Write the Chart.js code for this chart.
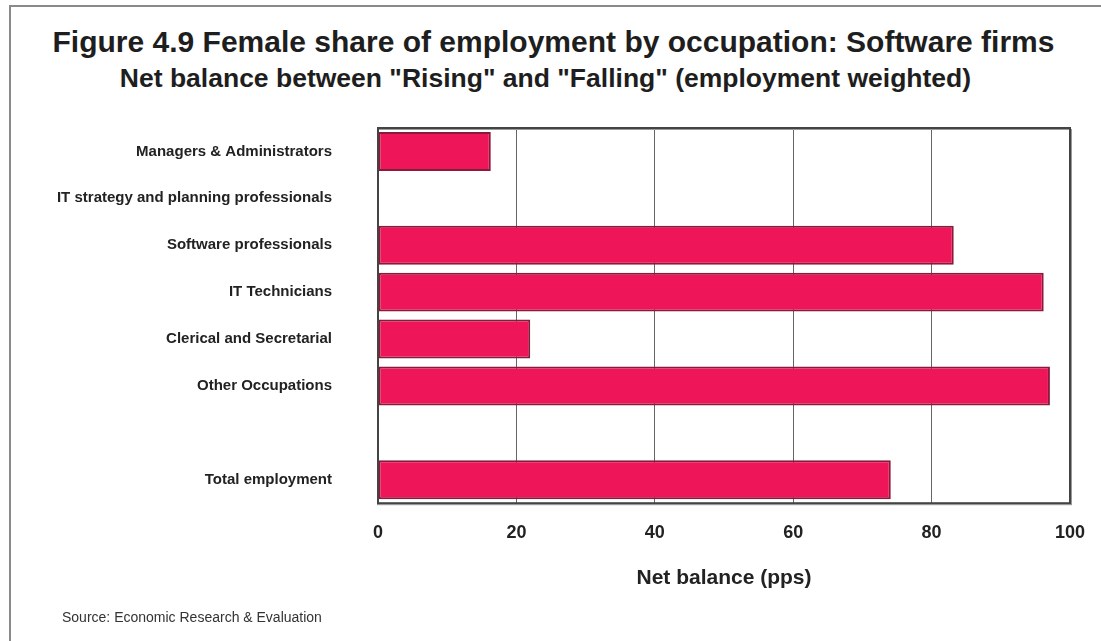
<!DOCTYPE html>
<html>
<head>
<meta charset="utf-8">
<script src="https://cdn.jsdelivr.net/npm/chart.js@4/dist/chart.umd.min.js"></script>
<style>
  body { margin: 0; background: #fff; font-family: "Liberation Sans", Arial, sans-serif; }
  #wrap { position: relative; width: 1101px; height: 641px; overflow: hidden; }
  #frame { position: absolute; left: 9px; top: 5px; width: 1200px; height: 700px;
           border-top: 2px solid #8a8a8a; border-left: 2px solid #8a8a8a; }
  .title { position: absolute; left: 0; width: 1101px; text-align: center; font-weight: bold; color: #1e1e1e; white-space: nowrap; line-height: 1.15; }
  #t1 { top: 25px; font-size: 30px; margin-left: 3px; }
  #t2 { top: 63px; font-size: 26.5px; margin-left: -5px; }
  #source { position: absolute; left: 62px; top: 609px; font-size: 14px; color: #333; }
  canvas { position: absolute; left: 0; top: 0; }
</style>
</head>
<body>
<div id="wrap">
  <div id="frame"></div>
  <div class="title" id="t1">Figure 4.9 Female share of employment by occupation: Software firms</div>
  <div class="title" id="t2">Net balance between "Rising" and "Falling" (employment weighted)</div>
  <canvas id="chart" width="1101" height="641"></canvas>
  <div id="source">Source: Economic Research &amp; Evaluation</div>
</div>
<script>
// occupations, with a blank slot before the total
var occupations = ['Managers & Administrators', 'IT strategy and planning professionals',
  'Software professionals', 'IT Technicians', 'Clerical and Secretarial',
  'Other Occupations', '', 'Total employment'];
var netBalance = [16.3, 0, 83.2, 96.2, 22.0, 97.1, null, 74.1];
var xTicks = [0, 20, 40, 60, 80, 100];

// box round the plot area
var plotBorder = {
  id: 'plotBorder',
  afterDraw: function (chart) {
    var a = chart.chartArea, c = chart.ctx;
    c.save();
    c.strokeStyle = '#9a9a9a';
    c.lineWidth = 1;
    c.strokeRect(a.left - 0.5, a.top + 1.5, a.right - a.left + 2, a.bottom - a.top);
    c.strokeStyle = '#444';
    c.lineWidth = 2;
    c.strokeRect(a.left, a.top, a.right - a.left, a.bottom - a.top);
    c.restore();
  }
};

var ctx = document.getElementById('chart').getContext('2d');
new Chart(ctx, {
  type: 'bar',
  data: {
    labels: occupations,
    datasets: [{
      data: netBalance,
      backgroundColor: '#ee1558',
      borderColor: '#8a1a3c',
      borderWidth: 2,
      borderSkipped: false,
      barPercentage: 0.83,
      categoryPercentage: 1
    }]
  },
  plugins: [plotBorder],
  options: {
    indexAxis: 'y',
    responsive: false,
    animation: false,
    layout: { padding: { top: 128, left: 8, right: 31, bottom: 50 } },
    plugins: { legend: { display: false }, tooltip: { enabled: false } },
    scales: {
      x: {
        min: 0, max: 100,
        afterBuildTicks: function (s) { s.ticks = xTicks.map(function (v) { return { value: v }; }); },
        // let the layout padding alone set the right edge
        afterFit: function (s) { s.paddingLeft = 0; s.paddingRight = 0; },
        grid: { color: '#666', lineWidth: 1, drawTicks: false },
        border: { display: false },
        ticks: { color: '#222', padding: 19, font: { family: 'Liberation Sans', size: 18, weight: 'bold' } },
        title: {
          display: true, text: 'Net balance (pps)', color: '#222',
          padding: { top: 3, bottom: 0 },
          font: { family: 'Liberation Sans', size: 21, weight: 'bold' }
        }
      },
      y: {
        afterFit: function (s) { s.width = 370; },
        grid: { display: false, drawTicks: false },
        border: { display: false },
        ticks: { color: '#222', padding: 46, font: { family: 'Liberation Sans', size: 15, weight: 'bold' } }
      }
    }
  }
});
</script>
</body>
</html>
